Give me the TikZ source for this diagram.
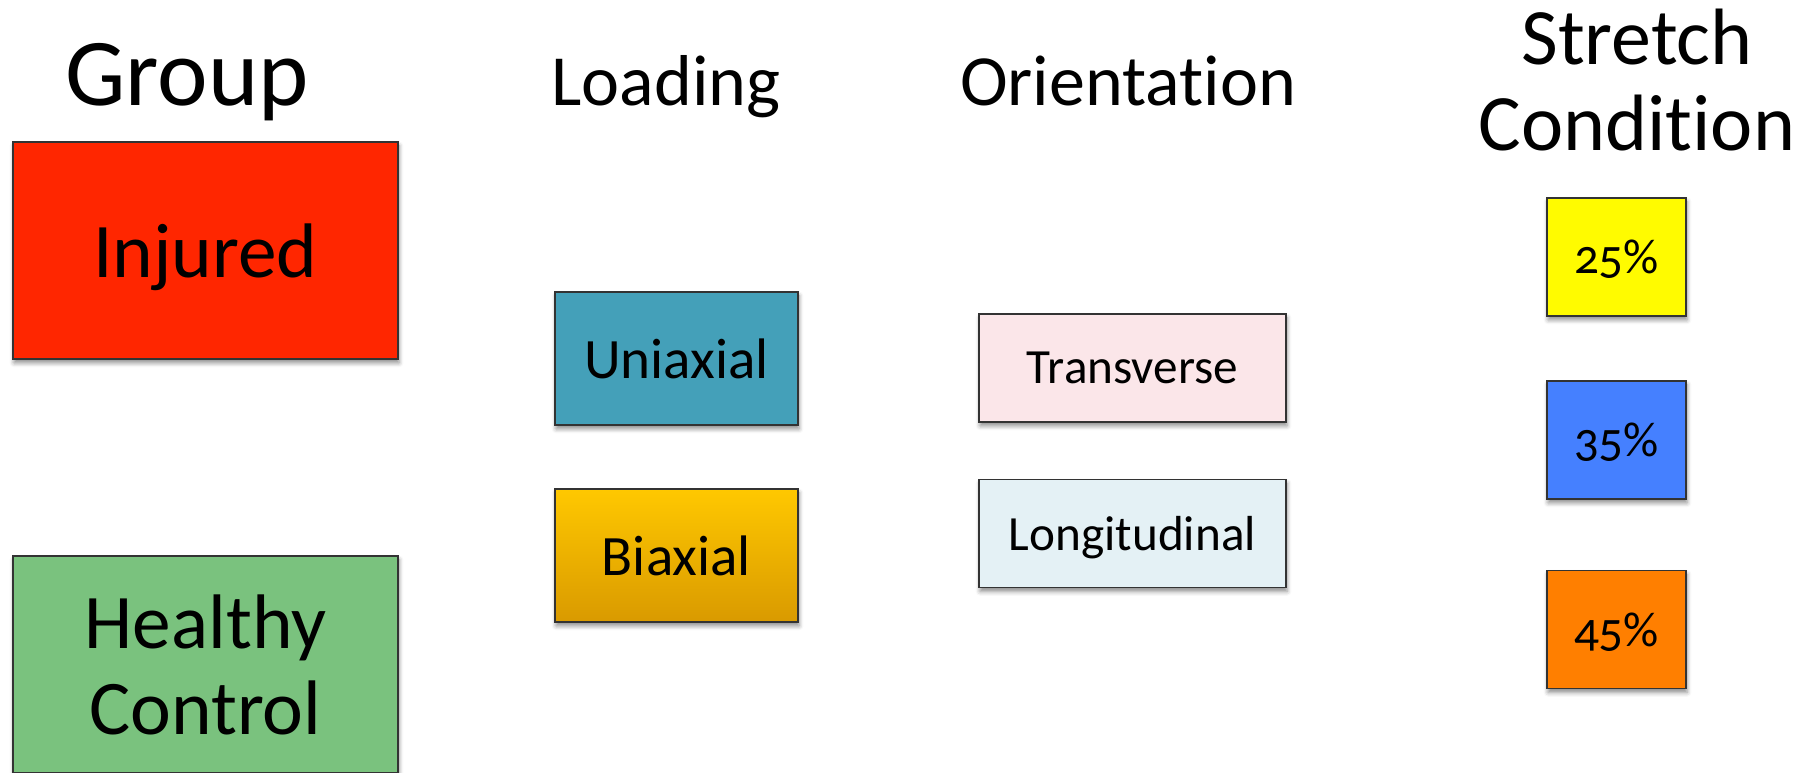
\documentclass[tikz,border=0pt]{standalone}
\usepackage{fontspec}
\setmainfont{Carlito}[Numbers=OldStyle, Ligatures=NoCommon]
\usepackage{tikz}
\usetikzlibrary{shadows.blur}

\definecolor{injured}{HTML}{FF2600}
\definecolor{healthy}{HTML}{7AC27E}
\definecolor{uniax}{HTML}{44A0B9}
\definecolor{biaxtop}{HTML}{FFC800}
\definecolor{biaxbot}{HTML}{D99A00}
\definecolor{transv}{HTML}{FBE6E9}
\definecolor{longit}{HTML}{E4F1F5}
\definecolor{pctlow}{HTML}{FFFB00}
\definecolor{pctmid}{HTML}{4580FF}
\definecolor{pcthigh}{HTML}{FF7F00}

\begin{document}
\begin{tikzpicture}[
    x=0.02cm, y=-0.02cm,
    header/.style={anchor=base, inner sep=0pt},
    card/.style={
        draw=black!80, line width=0.7pt,
        inner sep=0pt, align=center,
        blur shadow={shadow xshift=0.6pt, shadow yshift=-2.2pt,
                     shadow blur radius=2.5pt, shadow opacity=45}
    },
    oneline/.style={text depth=0pt},
    groupbox/.style={card, minimum width=385*0.02cm, minimum height=217*0.02cm,
        font=\fontsize{44}{49}\selectfont},
    loadbox/.style={card, oneline, minimum width=243*0.02cm, minimum height=133*0.02cm,
        font=\fontsize{32.5}{36}\selectfont},
    orientbox/.style={card, oneline, minimum width=307*0.02cm, minimum height=108*0.02cm,
        font=\fontsize{28}{32}\selectfont},
    stretchbox/.style={card, oneline, minimum width=139*0.02cm, minimum height=118*0.02cm,
        font=\fontsize{28}{32}\selectfont}
]
\useasboundingbox (0,0) rectangle (1801,772);

% column titles
\node[header, font=\fontsize{54.5}{60}\selectfont] (group) at (187,105) {Group};
\node[header, font=\fontsize{41}{46}\selectfont] (loading) at (666,105) {Loading};
\node[header, font=\fontsize{41}{46}\selectfont] (orient) at (1128,105) {Orientation};
\node[header, font=\fontsize{45.5}{48.5}\selectfont, align=center] (stretch) at (1637,150)
    {Stretch\\Condition};

% group
\node[groupbox, oneline, fill=injured] (injured) at (205.5,250.5) {Injured};
\node[groupbox, fill=healthy] (healthy) at (205.5,664.5) {Healthy\\Control};

% loading
\node[loadbox, fill=uniax] (uniaxial) at (676.5,358.5) {Uniaxial};
\node[loadbox, top color=biaxtop, bottom color=biaxbot] (biaxial) at (676.5,555.5) {Biaxial};

% orientation
\node[orientbox, fill=transv] (transverse) at (1132.5,368) {Transverse};
\node[orientbox, fill=longit] (longitudinal) at (1132.5,533.5) {Longitudinal};

% stretch levels
\node[stretchbox, fill=pctlow] (s25) at (1616.5,257) {25\%};
\node[stretchbox, fill=pctmid] (s35) at (1616.5,440) {35\%};
\node[stretchbox, fill=pcthigh] (s45) at (1616.5,629.5) {45\%};
\end{tikzpicture}
\end{document}
